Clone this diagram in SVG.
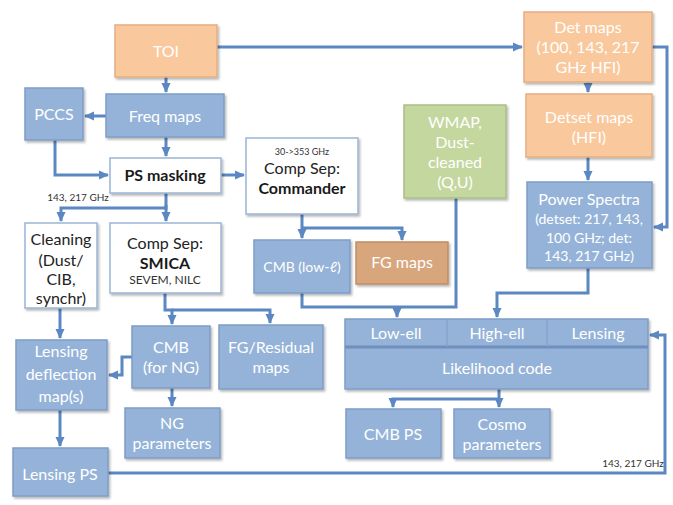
<svg xmlns="http://www.w3.org/2000/svg" width="673" height="505" viewBox="0 0 673 505">
<defs>
<marker id="ah" markerUnits="userSpaceOnUse" markerWidth="10" markerHeight="10" viewBox="0 0 10 10" refX="9" refY="5" orient="auto">
<path d="M0,0.5 L10,5 L0,9.5 z" fill="#5B87C2"/>
</marker>
<filter id="sh" x="-10%" y="-10%" width="125%" height="130%">
<feDropShadow dx="1.5" dy="2" stdDeviation="1.2" flood-color="#000" flood-opacity="0.28"/>
</filter>
</defs>
<style>
.box{stroke-width:1.5;filter:url(#sh)}
.or{fill:#F9C89D;stroke:#E3AE82}
.bl{fill:#95B3D8;stroke:#7E9DC8}
.gr{fill:#C4D79F;stroke:#A9BF86}
.tn{fill:#D8A67B;stroke:#C08D63}
.wh{fill:#FFFFFF;stroke:#9BB5D6}
text{font-family:Lato,"Open Sans","Liberation Sans",sans-serif;text-anchor:middle}
.w{fill:#FFFFFF;font-size:16px}
.ws{fill:#FFFFFF;font-size:14px}
.k{fill:#222222;font-size:16px}
.kb{fill:#1A1A1A;font-size:16px;font-weight:bold}
.ks{fill:#333333;font-size:12px}
.lab{fill:#333333;font-size:10px}
.c{fill:none;stroke:#5B87C2;stroke-width:3}
.a{marker-end:url(#ah)}
</style>
<rect width="673" height="505" fill="#FFFFFF"/>
<g id="connectors">
<path class="c a" d="M217,47 H522"/>
<path class="c a" d="M166,77 V92"/>
<path class="c a" d="M106,116 H85"/>
<path class="c a" d="M166,137 V156"/>
<path class="c a" d="M55,140 V175 H108"/>
<path class="c a" d="M221,175 H244"/>
<path class="c a" d="M166,193 V208 H61 V221"/>
<path class="c a" d="M166,205 V221"/>
<path class="c a" d="M588,82 V92"/>
<path class="c a" d="M588,157 V180"/>
<path class="c a" d="M652,47 H667 V227 H654"/>
<path class="c a" d="M302,214 V238"/>
<path class="c a" d="M302,228 H402 V240"/>
<path class="c a" d="M165,293 V310 H172 V324"/>
<path class="c a" d="M172,310 H270 V323"/>
<path class="c a" d="M132,357 H122 V375 H109"/>
<path class="c a" d="M60,308 V338"/>
<path class="c a" d="M172,388 V406"/>
<path class="c a" d="M60,410 V446"/>
<path class="c a" d="M108,473 H665 V335 H650"/>
<path class="c" d="M302,293 V307 H456 V198"/>
<path class="c a" d="M397,307 V317"/>
<path class="c a" d="M588,268 V293 H497 V317"/>
<path class="c a" d="M499,389 V407"/>
<path class="c a" d="M499,399 H393 V407"/>
</g>
<text class="lab" x="78" y="201">143, 217 GHz</text>
<text class="lab" x="633" y="467">143, 217 GHz</text>
<g id="toi"><rect class="box or" x="115" y="25" width="102" height="52"/><text class="w" x="166" y="57">TOI</text></g>
<g id="det-maps"><rect class="box or" x="524" y="12" width="128" height="70"/>
<text class="w" x="588" y="33">Det  maps</text><text class="w" x="588" y="53">(100, 143, 217</text><text class="w" x="588" y="73">GHz HFI)</text></g>
<g id="detset-maps"><rect class="box or" x="526" y="94" width="126" height="63"/>
<text class="w" x="589" y="123">Detset maps</text><text class="w" x="589" y="143">(HFI)</text></g>
<g id="freq-maps"><rect class="box bl" x="106" y="94" width="118" height="43"/><text class="w" x="165" y="122">Freq maps</text></g>
<g id="pccs"><rect class="box bl" x="25" y="88" width="58" height="52"/><text class="w" x="54" y="120">PCCS</text></g>
<g id="ps-masking"><rect class="box wh" x="110" y="158" width="111" height="35"/><text class="kb" x="165" y="181">PS masking</text></g>
<g id="commander"><rect class="box wh" x="246" y="138" width="112" height="76"/>
<text class="lab" x="302" y="155" style="font-size:9px">30-&gt;353 GHz</text>
<text class="k" x="302" y="174">Comp Sep:</text><text class="kb" x="302" y="194">Commander</text></g>
<g id="wmap"><rect class="box gr" x="404" y="105" width="102" height="93"/>
<text class="w" x="455" y="128">WMAP,</text><text class="w" x="455" y="148">Dust-</text><text class="w" x="455" y="168">cleaned</text><text class="w" x="455" y="188">(Q,U)</text></g>
<g id="power-spectra"><rect class="box bl" x="527" y="182" width="125" height="86"/>
<text class="w" x="589" y="205">Power Spectra</text><text class="ws" x="589" y="224">(detset: 217, 143,</text><text class="ws" x="589" y="243">100 GHz; det:</text><text class="ws" x="589" y="261">143, 217 GHz)</text></g>
<g id="cleaning"><rect class="box wh" x="25" y="223" width="72" height="85"/>
<text class="k" x="61" y="245">Cleaning</text><text class="k" x="61" y="266">(Dust/</text><text class="k" x="61" y="285">CIB,</text><text class="k" x="61" y="304">synchr)</text></g>
<g id="smica"><rect class="box wh" x="110" y="223" width="111" height="70"/>
<text class="k" x="165" y="249">Comp Sep:</text><text class="kb" x="165" y="269">SMICA</text><text class="ks" x="165" y="284">SEVEM, NILC</text></g>
<g id="cmb-low"><rect class="box bl" x="254" y="240" width="96" height="53"/><text class="ws" x="302" y="272">CMB (low-ℓ)</text></g>
<g id="fg-maps"><rect class="box tn" x="356" y="242" width="92" height="42"/><text class="w" x="402" y="268">FG maps</text></g>
<g id="fg-residual"><rect class="box bl" x="219" y="325" width="104" height="64"/>
<text class="w" x="271" y="353">FG/Residual</text><text class="w" x="271" y="373">maps</text></g>
<g id="cmb-ng"><rect class="box bl" x="132" y="326" width="78" height="62"/>
<text class="w" x="171" y="353">CMB</text><text class="w" x="171" y="373">(for NG)</text></g>
<g id="lensing-deflection"><rect class="box bl" x="16" y="340" width="91" height="70"/>
<text class="w" x="61" y="357">Lensing</text><text class="w" x="61" y="380">deflection</text><text class="w" x="61" y="402">map(s)</text></g>
<g id="ng-parameters"><rect class="box bl" x="125" y="408" width="95" height="50"/>
<text class="w" x="172" y="429">NG</text><text class="w" x="172" y="449">parameters</text></g>
<g id="lensing-ps"><rect class="box bl" x="13" y="448" width="95" height="48"/><text class="w" x="60" y="480">Lensing PS</text></g>
<g id="likelihood"><rect class="box bl" x="345" y="319" width="303" height="70"/>
<line x1="345" y1="347" x2="648" y2="347" stroke="#6F90BE" stroke-width="3"/>
<line x1="447" y1="319" x2="447" y2="347" stroke="#7E9DC8" stroke-width="1"/>
<line x1="547" y1="319" x2="547" y2="347" stroke="#7E9DC8" stroke-width="1"/>
<text class="w" x="396" y="339">Low-ell</text><text class="w" x="497" y="339">High-ell</text><text class="w" x="598" y="339">Lensing</text>
<text class="w" x="497" y="374">Likelihood code</text></g>
<g id="cmb-ps"><rect class="box bl" x="346" y="409" width="95" height="49"/><text class="w" x="393" y="440">CMB PS</text></g>
<g id="cosmo"><rect class="box bl" x="454" y="409" width="96" height="49"/>
<text class="w" x="502" y="430">Cosmo</text><text class="w" x="502" y="450">parameters</text></g>
</svg>
